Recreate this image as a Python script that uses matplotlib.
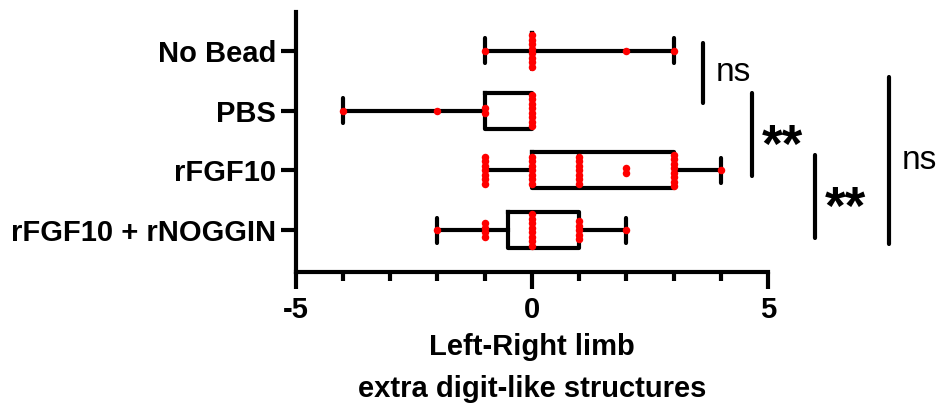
import numpy as np
import matplotlib
matplotlib.use("Agg")
import matplotlib.pyplot as plt

plt.rcParams['font.family'] = ['Liberation Sans', 'DejaVu Sans']

# data (values are whole numbers, ties stacked)
groups      = ["No Bead", "PBS", "rFGF10", "rFGF10 + rNOGGIN"]
no_bead     = [-1] + [0]*8 + [2, 3]
pbs         = [-4, -2, -1, -1] + [0]*8
rfgf10      = [-1]*7 + [0]*7 + [1]*7 + [2]*2 + [3]*8 + [4]
rfgf10_nog  = [-2] + [-1]*4 + [0]*8 + [1]*5 + [2]
data        = [no_bead, pbs, rfgf10, rfgf10_nog]

# significance brackets: (first row, last row, label)
sig_pairs   = [(0, 1, "ns"), (1, 2, "**"), (2, 3, "**"), (0, 3, "ns")]

lw = 3
fig = plt.figure(figsize=(9.36, 4.07), dpi=100)
ax = fig.add_axes([0.316, 0.3317, 0.5045, 0.6388])

pos = np.arange(len(groups))
ax.boxplot(data, positions=pos, orientation='horizontal', whis=(0, 100),
           widths=0.6, capwidths=0.42, showfliers=False,
           boxprops=dict(color='black', linewidth=lw),
           whiskerprops=dict(color='black', linewidth=lw),
           capprops=dict(color='black', linewidth=lw, solid_capstyle='round'),
           medianprops=dict(color='black', linewidth=lw))

# stacked dots
step = 0.075
for p, vals in zip(pos, data):
    uv, cnt = np.unique(vals, return_counts=True)
    for v, c in zip(uv, cnt):
        offs = (np.arange(c) - (c - 1) / 2) * step
        ax.plot([v]*c, p + offs, 'o', color='#ff0000', markersize=5.4,
                markeredgewidth=0, zorder=5)

ax.set_xlim(-5, 5)
ax.set_ylim(3.7, -0.65)
ax.set_yticks(pos)
ax.set_yticklabels(groups, fontsize=21, fontweight='bold')
ax.set_xticks([-5, 0, 5])
ax.set_xticks(np.arange(-5, 6, 1), minor=True)
ax.set_xticklabels(["-5", "0", "5"], fontsize=21, fontweight='bold')
ax.tick_params(axis='both', which='major', width=lw, length=11, pad=3)
ax.tick_params(axis='x', which='major', length=12, pad=5)
ax.tick_params(axis='x', which='minor', width=lw, length=6.5)
for s in ['top', 'right']:
    ax.spines[s].set_visible(False)
for s in ['left', 'bottom']:
    ax.spines[s].set_linewidth(lw)
ax.set_xlabel("Left-Right limb\nextra digit-like structures", fontsize=21,
              fontweight='bold', labelpad=7, linespacing=1.6)

# brackets outside the axes
bar_x   = [3.62, 4.66, 6.0, 7.56]
bar_y   = [(-0.13, 0.87), (0.7, 2.1), (1.75, 3.13), (0.43, 3.23)]
for (a, b, lab), x, (y0, y1) in zip(sig_pairs, bar_x, bar_y):
    ax.plot([x, x], [y0, y1], color='black', linewidth=lw,
            solid_capstyle='round', clip_on=False)
    ym = (y0 + y1) / 2
    if lab == "ns":
        ax.text(x + 0.28, ym, lab, fontsize=24, ha='left', va='center',
                clip_on=False)
    else:
        ax.text(x + 0.2, ym + 0.22, lab, fontsize=38, fontweight='bold',
                ha='left', va='center', clip_on=False)

plt.savefig("out.png", dpi=100)
plt.close()
